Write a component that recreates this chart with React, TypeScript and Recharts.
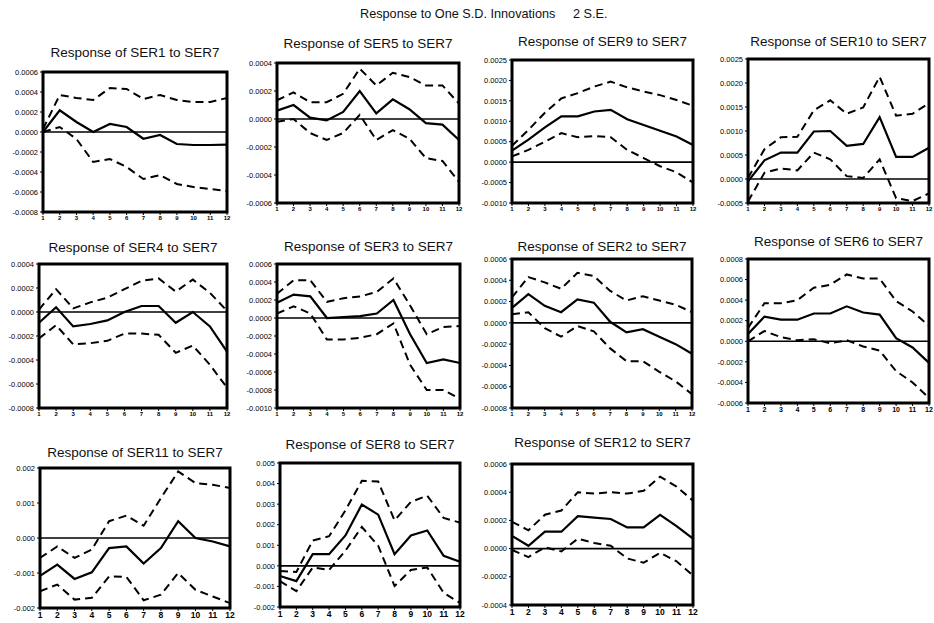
import { LineChart, Line, XAxis, YAxis, ReferenceLine, ReferenceArea } from 'recharts'

const periods = [1, 2, 3, 4, 5, 6, 7, 8, 9, 10, 11, 12]

// SER1
const ser1Mid = [0.0, 0.000217, 0.0001, 0.0, 0.00008, 0.00005, -0.000067, -0.00003, -0.00012, -0.00013, -0.00013, -0.000127]
const ser1Hi = [0.00003, 0.00037, 0.00034, 0.00032, 0.00044, 0.00043, 0.00033, 0.00037, 0.00032, 0.0003, 0.0003, 0.00034]
const ser1Lo = [0.0, 0.00005, -0.00007, -0.0003, -0.00027, -0.00035, -0.00047, -0.00043, -0.00052, -0.00055, -0.00057, -0.00059]
// SER5
const ser5Mid = [0.00006, 0.0001, 0.00001, -0.00001, 0.00005, 0.0002, 0.00004, 0.00014, 0.00007, -0.00003, -0.00004, -0.00015]
const ser5Hi = [0.000134, 0.00019, 0.00012, 0.00012, 0.00018, 0.00036, 0.00024, 0.00033, 0.0003, 0.00024, 0.00024, 0.00011]
const ser5Lo = [-0.00002, 0.0, -0.0001, -0.00015, -0.0001, 0.00003, -0.00015, -0.00008, -0.00014, -0.00028, -0.0003, -0.00045]
// SER9
const ser9Mid = [0.00028, 0.00055, 0.00085, 0.00112, 0.00112, 0.00124, 0.00128, 0.00105, 0.00091, 0.00077, 0.00063, 0.00042]
const ser9Hi = [0.0004, 0.00079, 0.00121, 0.00156, 0.00169, 0.00185, 0.00197, 0.00183, 0.00173, 0.00164, 0.00152, 0.00138]
const ser9Lo = [0.00014, 0.0003, 0.0005, 0.00071, 0.00061, 0.00064, 0.00061, 0.0003, 0.0001, -0.0001, -0.00025, -0.0005]
// SER10
const ser10Mid = [-0.00005, 0.00039, 0.00055, 0.00055, 0.00099, 0.001, 0.00069, 0.00073, 0.00129, 0.00046, 0.00046, 0.00065]
const ser10Hi = [0.00002, 0.00062, 0.00087, 0.00088, 0.00143, 0.00164, 0.00136, 0.00149, 0.00213, 0.00132, 0.00136, 0.00158]
const ser10Lo = [-0.00047, 0.00013, 0.00022, 0.00018, 0.00055, 0.00041, 0.00006, 0.00002, 0.00041, -0.0004, -0.00046, -0.0003]
// SER4
const ser4Mid = [-0.00009, 0.00004, -0.00012, -0.0001, -0.00007, 0.0, 0.00005, 0.00005, -0.00009, 0.0, -0.00012, -0.00033]
const ser4Hi = [0.00002, 0.00019, 0.00003, 0.00008, 0.00012, 0.00019, 0.00026, 0.00028, 0.00017, 0.00027, 0.00016, 0.00001]
const ser4Lo = [-0.00022, -0.00011, -0.00027, -0.00026, -0.00024, -0.00018, -0.00018, -0.00019, -0.00034, -0.00028, -0.00044, -0.00063]
// SER3
const ser3Mid = [0.00017, 0.00026, 0.00024, 0.0, 0.00001, 0.00002, 0.00005, 0.0002, -0.00018, -0.0005, -0.00046, -0.0005]
const ser3Hi = [0.00027, 0.00042, 0.00042, 0.00018, 0.00022, 0.00024, 0.00029, 0.00044, 0.00014, -0.00018, -0.0001, -0.00009]
const ser3Lo = [0.00005, 0.00013, 0.00005, -0.00024, -0.00024, -0.00022, -0.00018, -0.00006, -0.00052, -0.0008, -0.0008, -0.0009]
// SER2
const ser2Mid = [0.00014, 0.00027, 0.00016, 0.0001, 0.00022, 0.00019, 0.00001, -0.00009, -0.00006, -0.00013, -0.0002, -0.00029]
const ser2Hi = [0.00024, 0.00043, 0.00038, 0.00032, 0.00047, 0.00044, 0.0003, 0.00021, 0.00025, 0.00021, 0.00017, 0.0001]
const ser2Lo = [0.00008, 0.0001, -0.00005, -0.00013, -0.00003, -0.00008, -0.00024, -0.00036, -0.00036, -0.00046, -0.00055, -0.00067]
// SER6
const ser6Mid = [0.00007, 0.00024, 0.00021, 0.00021, 0.00027, 0.00027, 0.00034, 0.00028, 0.00026, 0.00003, -0.00006, -0.00021]
const ser6Hi = [0.00013, 0.00037, 0.00037, 0.0004, 0.00052, 0.00055, 0.00065, 0.00061, 0.00061, 0.00039, 0.00029, 0.00015]
const ser6Lo = [0.0, 0.0001, 0.00004, 0.00001, 0.00002, -0.00002, 0.00001, -0.00005, -0.00009, -0.00029, -0.0004, -0.00055]
// SER11
const ser11Mid = [-0.00108, -0.00076, -0.00117, -0.00098, -0.00029, -0.00024, -0.00073, -0.00029, 0.00048, 0.0, -0.0001, -0.00024]
const ser11Hi = [-0.00057, -0.00024, -0.00057, -0.00033, 0.00048, 0.00064, 0.00035, 0.00114, 0.0019, 0.00157, 0.00152, 0.00143]
const ser11Lo = [-0.00152, -0.00133, -0.00176, -0.00171, -0.0011, -0.00111, -0.00178, -0.00162, -0.001, -0.00148, -0.00167, -0.00186]
// SER8
const ser8Mid = [-0.00049, -0.00074, 0.00057, 0.00057, 0.00148, 0.00298, 0.00249, 0.00057, 0.00148, 0.00172, 0.00049, 0.0002]
const ser8Hi = [-0.00025, -0.0003, 0.00123, 0.00144, 0.0027, 0.00413, 0.0041, 0.00221, 0.00311, 0.00341, 0.00233, 0.0021]
const ser8Lo = [-0.00074, -0.00123, -0.00008, -0.0002, 0.00074, 0.00189, 0.00098, -0.00098, -0.0002, -0.00008, -0.00131, -0.0018]
// SER12
const ser12Mid = [0.00009, 0.00002, 0.00012, 0.00012, 0.00023, 0.00022, 0.00021, 0.00015, 0.00015, 0.00024, 0.00016, 0.00007]
const ser12Hi = [0.00019, 0.00013, 0.00024, 0.00027, 0.0004, 0.00039, 0.0004, 0.00039, 0.00041, 0.00051, 0.00044, 0.00034]
const ser12Lo = [-0.00001, -0.00006, 0.00001, -0.00002, 0.00007, 0.00004, 0.00002, -0.00007, -0.0001, -0.00003, -0.00009, -0.00019]

// y tick labels
const ticksA = [-0.0008, -0.0006, -0.0004, -0.0002, 0, 0.0002, 0.0004, 0.0006]
const ticksB = [-0.0006, -0.0004, -0.0002, 0, 0.0002, 0.0004]
const ticksC = [-0.001, -0.0005, 0, 0.0005, 0.001, 0.0015, 0.002, 0.0025]
const ticksD = [-0.0005, 0, 0.0005, 0.001, 0.0015, 0.002, 0.0025]
const ticksE = [-0.0008, -0.0006, -0.0004, -0.0002, 0, 0.0002, 0.0004]
const ticksF = [-0.001, -0.0008, -0.0006, -0.0004, -0.0002, 0, 0.0002, 0.0004, 0.0006]
const ticksG = [-0.0006, -0.0004, -0.0002, 0, 0.0002, 0.0004, 0.0006, 0.0008]
const ticksH = [-0.002, -0.001, 0, 0.001, 0.002]
const ticksI = [-0.002, -0.001, 0, 0.001, 0.002, 0.003, 0.004, 0.005]
const ticksJ = [-0.0004, -0.0002, 0, 0.0002, 0.0004, 0.0006]

const panels = [
  { title: 'Response of SER1 to SER7', mid: ser1Mid, hi: ser1Hi, lo: ser1Lo, ticks: ticksA, digits: 4, box: [43, 72, 184, 140], ty: 53, xf: 6 },
  { title: 'Response of SER5 to SER7', mid: ser5Mid, hi: ser5Hi, lo: ser5Lo, ticks: ticksB, digits: 4, box: [277, 63, 182, 140], ty: 44, xf: 6 },
  { title: 'Response of SER9 to SER7', mid: ser9Mid, hi: ser9Hi, lo: ser9Lo, ticks: ticksC, digits: 4, box: [512, 60, 181, 143], ty: 42, xf: 6 },
  { title: 'Response of SER10 to SER7', mid: ser10Mid, hi: ser10Hi, lo: ser10Lo, ticks: ticksD, digits: 4, box: [748, 59, 181, 144], ty: 42, xf: 6 },
  { title: 'Response of SER4 to SER7', mid: ser4Mid, hi: ser4Hi, lo: ser4Lo, ticks: ticksE, digits: 4, box: [39, 264, 188, 144], ty: 248, xf: 6 },
  { title: 'Response of SER3 to SER7', mid: ser3Mid, hi: ser3Hi, lo: ser3Lo, ticks: ticksF, digits: 4, box: [277, 264, 183, 144], ty: 247, xf: 6 },
  { title: 'Response of SER2 to SER7', mid: ser2Mid, hi: ser2Hi, lo: ser2Lo, ticks: ticksA, digits: 4, box: [512, 259, 180, 149], ty: 247, xf: 6 },
  { title: 'Response of SER6 to SER7', mid: ser6Mid, hi: ser6Hi, lo: ser6Lo, ticks: ticksG, digits: 4, box: [748, 259, 181, 144], ty: 242, xf: 7 },
  { title: 'Response of SER11 to SER7', mid: ser11Mid, hi: ser11Hi, lo: ser11Lo, ticks: ticksH, digits: 3, box: [40, 468, 190, 140], ty: 453, xf: 8.5 },
  { title: 'Response of SER8 to SER7', mid: ser8Mid, hi: ser8Hi, lo: ser8Lo, ticks: ticksI, digits: 3, box: [280, 463, 180, 144], ty: 445, xf: 8.5 },
  { title: 'Response of SER12 to SER7', mid: ser12Mid, hi: ser12Hi, lo: ser12Lo, ticks: ticksJ, digits: 4, box: [512, 464, 181, 141], ty: 443, xf: 8.5 },
]

const font = '"Liberation Sans", Arial, sans-serif'
const YW = 40
const TOP = 5
const RIGHT = 5
const XH = 16

function Panel({ p }: { p: (typeof panels)[number] }) {
  const [x, y, w, h] = p.box
  const data = periods.map((t, i) => ({ t, mid: p.mid[i], hi: p.hi[i], lo: p.lo[i] }))
  const lo = p.ticks[0]
  const hi = p.ticks[p.ticks.length - 1]
  return (
    <>
      <div
        style={{
          position: 'absolute',
          left: x + w / 2 - 120,
          width: 240,
          top: p.ty - 8,
          textAlign: 'center',
          fontSize: 13.5,
          lineHeight: '16px',
          color: '#111',
        }}
      >
        {p.title}
      </div>
      <div style={{ position: 'absolute', left: x - YW, top: y - TOP }}>
        <LineChart
          width={w + YW + RIGHT}
          height={h + TOP + XH}
          data={data}
          margin={{ top: TOP, right: RIGHT, left: 0, bottom: 0 }}
        >
          <XAxis
            dataKey="t"
            type="number"
            domain={[1, 12]}
            ticks={periods}
            interval={0}
            height={XH}
            axisLine={false}
            tickLine={{ stroke: '#000' }}
            tickSize={3}
            tickMargin={1}
            tick={{ fontSize: p.xf, fill: '#000', fontWeight: 'bold' }}
          />
          <YAxis
            type="number"
            domain={[lo, hi]}
            ticks={p.ticks}
            interval={0}
            allowDataOverflow
            width={YW}
            axisLine={false}
            tickLine={{ stroke: '#000' }}
            tickSize={3}
            tickMargin={2}
            tick={{ fontSize: 7.5, fill: '#000' }}
            tickFormatter={(v: number) => v.toFixed(p.digits)}
          />
          <ReferenceArea x1={1} x2={12} y1={lo} y2={hi} fill="none" stroke="#000" strokeWidth={3} />
          <ReferenceLine y={0} stroke="#000" strokeWidth={1.6} />
          <Line dataKey="hi" stroke="#000" strokeWidth={2} strokeDasharray="8 5" dot={false} isAnimationActive={false} />
          <Line dataKey="lo" stroke="#000" strokeWidth={2} strokeDasharray="8 5" dot={false} isAnimationActive={false} />
          <Line dataKey="mid" stroke="#000" strokeWidth={2.2} dot={false} isAnimationActive={false} />
        </LineChart>
      </div>
    </>
  )
}

export default function App() {
  return (
    <div
      style={{
        position: 'absolute',
        left: 0,
        top: 0,
        width: 934,
        height: 623,
        background: '#fff',
        fontFamily: font,
        overflow: 'hidden',
      }}
    >
      <div
        style={{
          position: 'absolute',
          left: 360,
          top: 6,
          fontSize: 12.7,
          lineHeight: '16px',
          whiteSpace: 'pre',
          color: '#111',
        }}
      >
        {'Response to One S.D. Innovations     2 S.E.'}
      </div>
      {panels.map((p) => (
        <Panel key={p.title} p={p} />
      ))}
    </div>
  )
}
